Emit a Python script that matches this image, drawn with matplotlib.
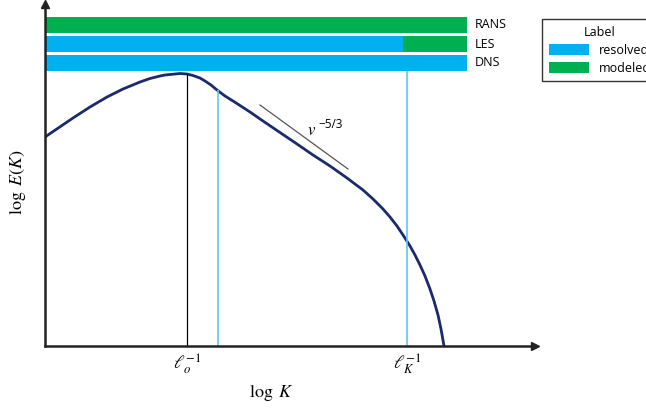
"""
Turbulent energy spectrum sketch: which scales RANS / LES / DNS resolve or model.
"""

import matplotlib.pyplot as plt
from matplotlib.patches import Patch

plt.rcParams["mathtext.fontset"] = "stix"

# spectrum E(K) (log K, log E)
LOG_K = [0.0, 0.14, 0.28, 0.45, 0.62, 0.78, 0.95, 1.05, 1.15, 1.20, 1.28, 1.35,
         1.42, 1.48, 1.55, 1.60, 1.66, 1.72, 1.80, 1.88, 1.95, 2.05, 2.18, 2.35,
         2.52, 2.68, 2.85, 3.02, 3.18, 3.28, 3.38, 3.45, 3.52, 3.58, 3.65, 3.70,
         3.75, 3.80, 3.85, 3.89, 3.93, 3.96, 3.99]
LOG_E = [2.09, 2.185, 2.28, 2.39, 2.49, 2.57, 2.64, 2.675, 2.70, 2.71, 2.718, 2.725,
         2.72, 2.705, 2.68, 2.65, 2.61, 2.56, 2.50, 2.45, 2.405, 2.34, 2.25, 2.135,
         2.02, 1.91, 1.80, 1.68, 1.56, 1.47, 1.37, 1.29, 1.20, 1.11, 1.00, 0.91,
         0.81, 0.70, 0.57, 0.45, 0.31, 0.17, 0.0]

# -5/3 reference slope segment
SLOPE_K = [2.15, 3.03]
SLOPE_E = [2.41, 1.77]

# characteristic wavenumbers
K_INTEGRAL = 1.42      # l_o^-1
K_LES_CUT = 1.73       # LES filter
K_KOLMOGOROV = 3.62    # l_K^-1
E_AT_LES_CUT = 2.56
E_AT_PEAK = 2.72

# resolved / modeled bars
METHODS = ["RANS", "LES", "DNS"]
BAR_BOTTOM = [3.13, 2.94, 2.75]
BAR_HEIGHT = 0.16
BAR_START = 0.01
BAR_END = 4.22
RESOLVED_UP_TO = [0.01, 3.58, 4.22]

BLUE = "#00b0f0"
GREEN = "#00b050"
LINE_BLUE = "#5cc8f2"
NAVY = "#1b2a6b"

fig = plt.figure(figsize=(6.46, 4.09), dpi=100)
ax = fig.add_axes([45 / 646, 63 / 409, 490 / 646, 342 / 409])
ax.set_xlim(0, 4.9)
ax.set_ylim(0, 3.42)

for name, y0, cut in zip(METHODS, BAR_BOTTOM, RESOLVED_UP_TO):
    if cut > BAR_START:
        ax.broken_barh([(BAR_START, cut - BAR_START)], (y0, BAR_HEIGHT), facecolor=BLUE)
    if cut < BAR_END:
        ax.broken_barh([(cut, BAR_END - cut)], (y0, BAR_HEIGHT), facecolor=GREEN)
    ax.text(BAR_END + 0.08, y0 + BAR_HEIGHT / 2, name, va="center", ha="left",
            fontsize=9, family="Open Sans")

ax.plot(LOG_K, LOG_E, color=NAVY, lw=2, solid_capstyle="round", solid_joinstyle="round")
ax.plot(SLOPE_K, SLOPE_E, color="#555555", lw=0.9)
ax.text(2.62, 2.16, "$v$", fontsize=12, ha="left", va="center")
ax.text(2.73, 2.22, "\u22125/3", fontsize=8.5, ha="left", va="center", family="Open Sans")

ax.vlines(K_INTEGRAL, 0, E_AT_PEAK, color="black", lw=0.9)
ax.vlines(K_LES_CUT, 0, E_AT_LES_CUT, color=LINE_BLUE, lw=1.2)
ax.vlines(K_KOLMOGOROV, 0, BAR_BOTTOM[-1], color=LINE_BLUE, lw=1.2)

# axes drawn as arrows
for side in ["top", "right"]:
    ax.spines[side].set_visible(False)
for side in ["left", "bottom"]:
    ax.spines[side].set_linewidth(1.8)
    ax.spines[side].set_color("#222222")
ax.plot(1, 0, ">", color="#222222", ms=6, transform=ax.transAxes, clip_on=False)
ax.plot(0, 1, "^", color="#222222", ms=6, transform=ax.transAxes, clip_on=False)

ax.set_yticks([])
ax.set_xticks([K_INTEGRAL, K_KOLMOGOROV])
ax.set_xticklabels([r"$\ell_o^{-1}$", r"$\ell_K^{-1}$"], fontsize=13)
ax.tick_params(axis="x", length=0, pad=4)

fig.text(271 / 646, 1 - 393 / 409, r"$\log\ K$", fontsize=13, ha="center", va="center")
fig.text(18 / 646, 1 - 182 / 409, r"$\log\ E(K)$", fontsize=13, ha="center",
         va="center", rotation=90)

# legend runs off the right edge, as in the original
handles = [Patch(facecolor=BLUE, label="resolved"), Patch(facecolor=GREEN, label="modeled")]
leg = fig.legend(handles=handles, title="Label", loc="upper left",
                 bbox_to_anchor=(536 / 646, 1 - 13 / 409), frameon=True, fancybox=False,
                 edgecolor="black", title_fontsize=9,
                 handlelength=3.2, handleheight=1.0, borderpad=0.5, labelspacing=0.4,
                 prop={"family": "Open Sans", "size": 9})
leg.get_title().set_family("Open Sans")
leg.get_frame().set_linewidth(1.0)

fig.savefig("out.png", dpi=100)
